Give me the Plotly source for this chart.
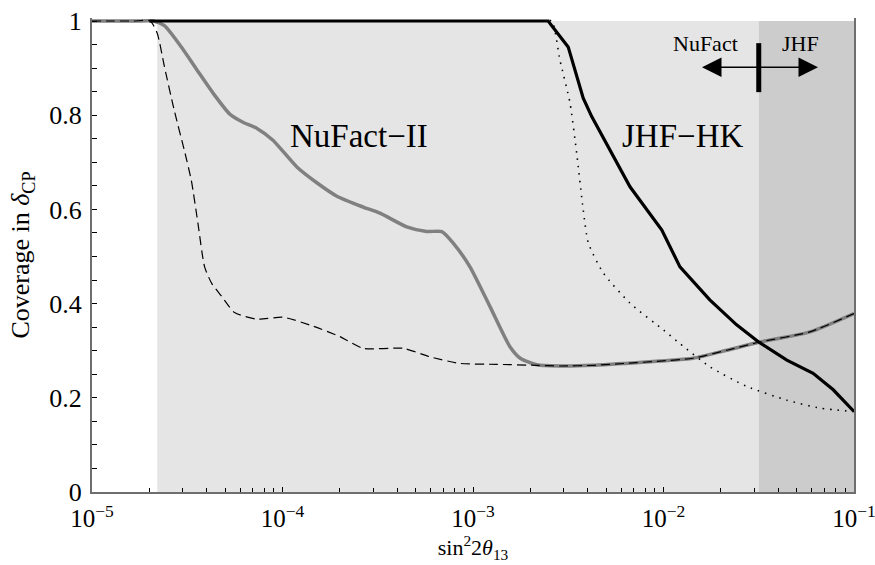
import plotly.graph_objects as go

# ---------------- data ----------------
# NuFact-II (thick gray)
nufact_x = [1e-5, 1.3e-5, 1.7e-5, 2.1e-5, 2.4e-5, 3.0e-5, 3.6e-5, 4.32e-5, 5.3e-5, 6.2e-5,
            7.35e-5, 8.91e-5, 1.19e-4, 1.52e-4, 1.93e-4, 2.65e-4, 3.25e-4, 4.49e-4, 5.71e-4,
            6.86e-4, 7.89e-4, 9.64e-4, 1.23e-3, 1.56e-3, 1.77e-3, 2.16e-3, 2.86e-3, 4.3e-3,
            6.3e-3, 9.6e-3, 1.43e-2, 2.15e-2, 3.17e-2, 5.87e-2, 1e-1]
nufact_y = [1.0, 1.0, 1.0, 1.0, 0.99, 0.94, 0.893, 0.847, 0.802, 0.785,
            0.772, 0.747, 0.69, 0.656, 0.628, 0.605, 0.592, 0.563, 0.553,
            0.553, 0.528, 0.478, 0.393, 0.309, 0.284, 0.270, 0.2675, 0.269,
            0.273, 0.278, 0.284, 0.301, 0.318, 0.340, 0.379]

# dashed curve
dash_x = [1e-5, 1.3e-5, 1.65e-5, 2.02e-5, 2.2e-5, 2.4e-5, 2.7e-5, 3.05e-5, 3.32e-5, 3.6e-5,
          3.9e-5, 4.25e-5, 4.8e-5, 5.6e-5, 7.32e-5, 1.01e-4, 1.45e-4, 2.0e-4, 2.65e-4, 4.31e-4,
          5.95e-4, 8.55e-4, 1.33e-3, 2.16e-3, 2.86e-3, 4.3e-3, 6.3e-3, 9.6e-3, 1.43e-2, 2.15e-2,
          3.17e-2, 5.87e-2, 1e-1]
dash_y = [1.0, 1.0, 1.0, 1.0, 0.974, 0.903, 0.811, 0.726, 0.662, 0.570,
          0.478, 0.443, 0.415, 0.381, 0.367, 0.371, 0.352, 0.330, 0.305, 0.305,
          0.287, 0.273, 0.271, 0.269, 0.2675, 0.269, 0.273, 0.278, 0.284, 0.301,
          0.318, 0.340, 0.379]

# JHF-HK (thick black)
jhf_x = [2e-5, 2.48e-3, 3.16e-3, 3.79e-3, 4.2e-3, 5.46e-3, 6.67e-3, 9.8e-3, 1.22e-2, 1.75e-2,
         2.42e-2, 3.17e-2, 4.44e-2, 6.1e-2, 7.78e-2, 1e-1]
jhf_y = [1.0, 1.0, 0.945, 0.836, 0.797, 0.712, 0.648, 0.556, 0.478, 0.408,
         0.355, 0.318, 0.280, 0.252, 0.217, 0.171]

# dotted curve
dot_x = [2.3e-3, 2.59e-3, 2.86e-3, 3.23e-3, 3.5e-3, 3.79e-3, 4.03e-3, 4.83e-3, 6.67e-3, 1.0e-2,
         1.22e-2, 1.75e-2, 2.74e-2, 4.44e-2, 6.64e-2, 1e-1]
dot_y = [1.0, 1.0, 0.917, 0.826, 0.72, 0.599, 0.529, 0.465, 0.401, 0.344,
         0.315, 0.266, 0.224, 0.195, 0.178, 0.171]

# shaded regions (x edges)
light_band = [2.2e-5, 10 ** -1.5]
dark_band = [10 ** -1.5, 1e-1]

x_tickvals = [1e-5, 1e-4, 1e-3, 1e-2, 1e-1]
x_ticktext = ["10<sup>\u22125</sup>", "10<sup>\u22124</sup>", "10<sup>\u22123</sup>",
              "10<sup>\u22122</sup>", "10<sup>\u22121</sup>"]
y_tickvals = [0, 0.2, 0.4, 0.6, 0.8, 1.0]
y_ticktext = ["0", "0.2", "0.4", "0.6", "0.8", "1"]

# ---------------- figure ----------------
FONT = "Liberation Serif"
fig = go.Figure()

fig.add_trace(go.Scatter(x=[light_band[0], light_band[1], light_band[1], light_band[0]],
                         y=[0, 0, 1, 1], fill="toself", fillcolor="#e5e5e5",
                         mode="lines", line=dict(width=0), hoverinfo="skip"))
fig.add_trace(go.Scatter(x=[dark_band[0], dark_band[1], dark_band[1], dark_band[0]],
                         y=[0, 0, 1, 1], fill="toself", fillcolor="#cccccc",
                         mode="lines", line=dict(width=0), hoverinfo="skip"))

fig.add_trace(go.Scatter(x=nufact_x, y=nufact_y, mode="lines",
                         line=dict(color="#808080", width=3.5, shape="spline", smoothing=0.6)))
fig.add_trace(go.Scatter(x=dash_x, y=dash_y, mode="lines",
                         line=dict(color="black", width=1.2, dash="9px,5px", shape="spline", smoothing=0.6)))
fig.add_trace(go.Scatter(x=dot_x, y=dot_y, mode="lines",
                         line=dict(color="black", width=1.6, dash="1.5px,6px", shape="spline", smoothing=0.6)))
fig.add_trace(go.Scatter(x=jhf_x, y=jhf_y, mode="lines",
                         line=dict(color="black", width=3.2)))

# vertical divider bar
bar_x = 10 ** -1.5
fig.add_trace(go.Scatter(x=[bar_x, bar_x], y=[0.849, 0.953], mode="lines",
                         line=dict(color="black", width=5), hoverinfo="skip"))

split_log = -1.5
arrow_y = 0.902
fig.add_annotation(x=-1.798, y=arrow_y, ax=split_log, ay=arrow_y, axref="x", ayref="y",
                   xref="x", yref="y", text="", showarrow=True, arrowhead=2,
                   arrowsize=2.6, arrowwidth=1.5, arrowcolor="black")
fig.add_annotation(x=-1.189, y=arrow_y, ax=split_log, ay=arrow_y, axref="x", ayref="y",
                   xref="x", yref="y", text="", showarrow=True, arrowhead=2,
                   arrowsize=2.6, arrowwidth=1.5, arrowcolor="black")

fig.add_annotation(x=-3.598, y=0.756, xref="x", yref="y", text="NuFact\u2212II", showarrow=False,
                   font=dict(family=FONT, size=33, color="black"))
fig.add_annotation(x=-1.898, y=0.756, xref="x", yref="y", text="JHF\u2212HK", showarrow=False,
                   font=dict(family=FONT, size=33, color="black"))
fig.add_annotation(x=-1.782, y=0.953, xref="x", yref="y", text="NuFact", showarrow=False,
                   font=dict(family=FONT, size=22, color="black"))
fig.add_annotation(x=-1.283, y=0.953, xref="x", yref="y", text="JHF", showarrow=False,
                   font=dict(family=FONT, size=22, color="black"))

axis_color = "#6e6e6e"
fig.update_layout(
    width=875, height=565,
    margin=dict(l=92, r=21, t=18, b=73, autoexpand=False),
    paper_bgcolor="white", plot_bgcolor="white",
    showlegend=False,
    font=dict(family=FONT, size=24, color="black"),
    xaxis=dict(type="log", range=[-5, -1], tickvals=x_tickvals, ticktext=x_ticktext,
               automargin=False,
               ticks="inside", ticklen=5, tickwidth=1, tickcolor="black",
               ticklabeloverflow="allow", ticklabelstandoff=3,
               showline=True, linecolor=axis_color, linewidth=2, showgrid=False, zeroline=False,
               minor=dict(ticks="inside", ticklen=4, tickcolor="black", dtick="D1", showgrid=False),
               tickfont=dict(family=FONT, size=25),
               title=dict(text="sin<sup>2</sup>2<i>θ</i><sub>13</sub>",
                          font=dict(family=FONT, size=22), standoff=6)),
    yaxis=dict(range=[0, 1.0064], tickvals=y_tickvals, ticktext=y_ticktext,
               automargin=False,
               ticks="inside", ticklen=5, tickwidth=1, tickcolor="black",
               ticklabelstandoff=3,
               showline=True, linecolor=axis_color, linewidth=2, mirror=True,
               showgrid=False, zeroline=False,
               minor=dict(ticks="inside", ticklen=5, tickcolor="black", dtick=0.05, showgrid=False),
               tickfont=dict(family=FONT, size=26),
               title=dict(text="Coverage in <i>δ</i><sub>CP</sub>",
                          font=dict(family=FONT, size=26), standoff=12)),
)

fig.write_html("out.html")
